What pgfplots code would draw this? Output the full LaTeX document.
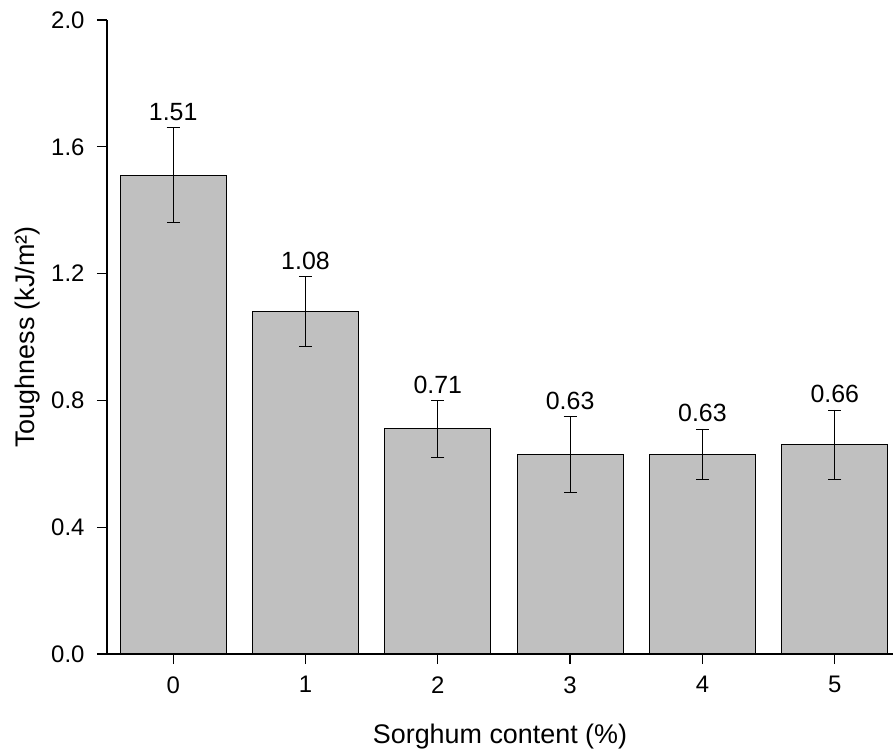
\documentclass[border=0pt]{standalone}
\usepackage{fontspec}
\setmainfont{Liberation Sans}
\usepackage{pgfplots}
\usepackage{pgfplotstable}
\pgfplotsset{compat=1.18}
\definecolor{barg}{RGB}{192,192,192}
\pgfplotstableread{
x y err top lab
0 1.51 0.15 1.66 1.51
1 1.08 0.11 1.19 1.08
2 0.71 0.09 0.80 0.71
3 0.63 0.12 0.75 0.63
4 0.63 0.08 0.71 0.63
5 0.66 0.11 0.77 0.66
}\datatable
\begin{document}
\begin{tikzpicture}
\begin{axis}[
 scale only axis, width=786bp, height=634bp,
 xmin=-0.5, xmax=5.44, ymin=0, ymax=2.0,
 axis x line*=bottom, axis y line*=left,
 axis line style={line width=1.3bp, -},
 ytick={0,0.4,0.8,1.2,1.6,2.0},
 yticklabel style={/pgf/number format/fixed, /pgf/number format/fixed zerofill, /pgf/number format/precision=1, xshift=-9bp},
 xticklabel style={yshift=-9bp},
 xtick={0,...,5},
 tick align=outside, major tick length=10bp,
 tick style={line width=1.3bp, black},
 ticklabel style={font=\fontsize{24}{28}\selectfont},
 /pgf/number format/assume math mode=true,
 xlabel={Sorghum content (\%)}, ylabel={Toughness (kJ/m²)},
 label style={font=\fontsize{27}{31}\selectfont},
 xlabel style={at={([yshift=-89bp]axis description cs:0.5,0)}, anchor=base},
 ylabel style={at={([xshift=-79bp]axis description cs:0,0.5)}, anchor=center},
 clip=false,
]
\addplot[ybar, bar width=106bp, fill=barg, draw=black, line width=1.1bp,
  error bars/.cd, y dir=both, y explicit,
  error bar style={line width=0.8bp, black},
  error mark options={rotate=90, mark size=6.5bp, line width=0.8bp, black}]
  table[x=x, y=y, y error=err] {\datatable};
\addplot[draw=none, mark=none, nodes near coords, point meta=explicit symbolic,
  nodes near coords style={anchor=south, font=\fontsize{25}{29}\selectfont, inner sep=0pt, yshift=6.5bp, text=black}]
  table[x=x, y=top, meta=lab] {\datatable};
\end{axis}
\pgfresetboundingbox
\path ([shift={(-107bp,-95bp)}]current axis.south west) rectangle ([shift={(0bp,20bp)}]current axis.north east);
\end{tikzpicture}
\end{document}
